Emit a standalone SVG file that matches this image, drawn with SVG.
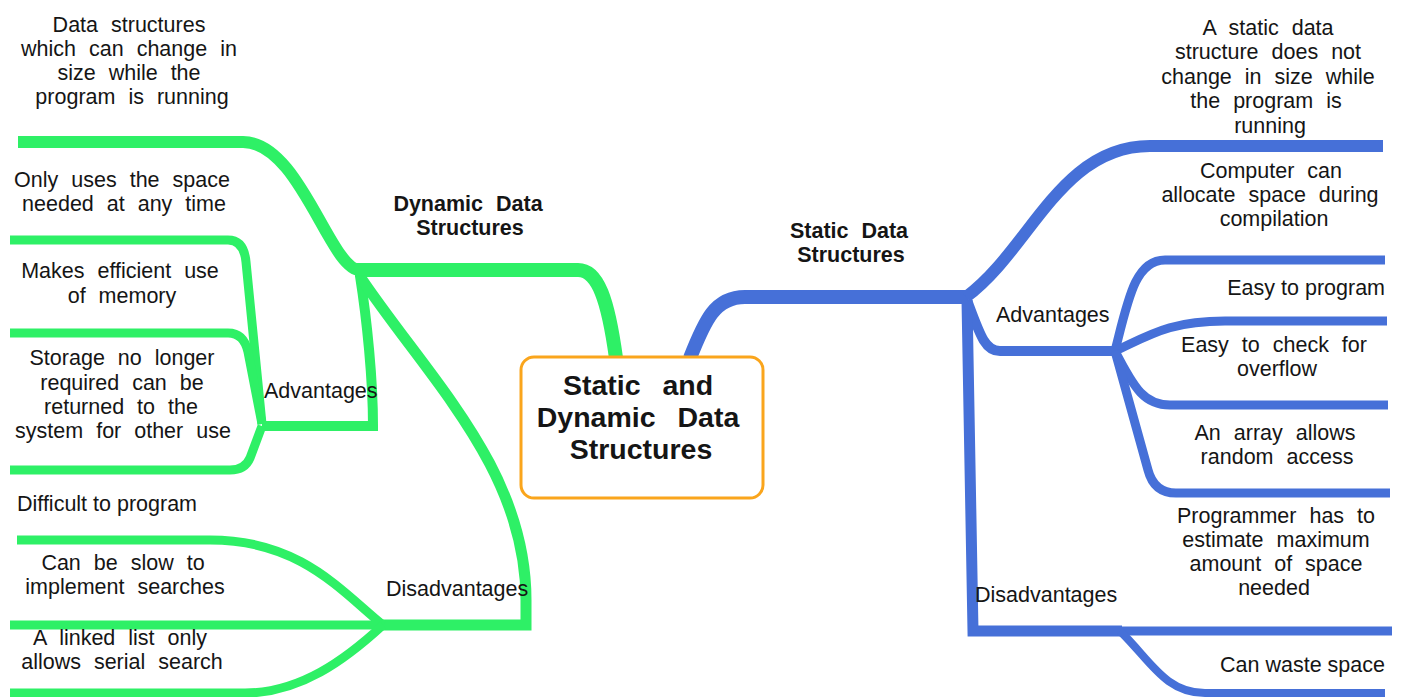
<svg xmlns="http://www.w3.org/2000/svg" width="1404" height="697" viewBox="0 0 1404 697">
  <style>
    .t { font-family: "Liberation Sans", Arial, sans-serif; font-size: 21.5px; fill: #151515; }
    .j { word-spacing: 7px; }
    .m { text-anchor: middle; }
    .e { text-anchor: end; }
    .b { font-weight: bold; }
    .r { font-size: 28.5px; word-spacing: 14px; }
    .g { fill: none; stroke: #2ef066; stroke-linejoin: miter; }
    .u { fill: none; stroke: #4670d8; stroke-linejoin: miter; }
  </style>

  <rect width="1404" height="697" fill="#ffffff"/>

  <!-- branch lines -->
  <g id="connectors">
    <!-- dynamic side (green) -->
    <path class="g" stroke-width="14" d="M355,270 L578,270 C598,270 608,300 616,358"/>
    <path class="g" stroke-width="12" d="M18,142 L243,142 C300,142 330,270 360,270"/>
    <path class="g" stroke-width="10" d="M360,276 C367,320 373,380 373,426 L262,426"/>
    <path class="g" stroke-width="11" d="M361,278 C430,380 526,470 526,600 L526,625 L383,625"/>
    <path class="g" stroke-width="9" d="M262,424 L246,262 Q244,240 228,240 L10,240"/>
    <path class="g" stroke-width="9" d="M262,424 L248,352 Q244,333 228,333 L10,333"/>
    <path class="g" stroke-width="9" d="M262,426 L250,458 Q245,470 230,470 L10,470"/>
    <path class="g" stroke-width="9" d="M383,625 C340,590 300,540 210,540 L17,540"/>
    <path class="g" stroke-width="9" d="M383,625 L10,625"/>
    <path class="g" stroke-width="9" d="M383,625 C345,660 300,693 245,693 L10,693"/>

    <!-- static side (blue) -->
    <path class="u" stroke-width="14" d="M690,358 C705,320 715,297 745,297 L968,297"/>
    <path class="u" stroke-width="12" d="M966,297 C1030,250 1060,146 1150,146 L1383,146"/>
    <path class="u" stroke-width="10" d="M967,300 C980,335 985,351 1000,351 L1117,351"/>
    <path class="u" stroke-width="11" d="M967,300 L973,631 L1122,631"/>
    <path class="u" stroke-width="9" d="M1115,351 C1128,300 1135,260 1165,260 L1385,260"/>
    <path class="u" stroke-width="9" d="M1115,351 C1150,335 1170,321 1225,321 L1387,321"/>
    <path class="u" stroke-width="9" d="M1115,351 C1135,390 1145,405 1170,405 L1388,405"/>
    <path class="u" stroke-width="9" d="M1115,351 L1148,470 Q1154,493 1176,493 L1390,493"/>
    <path class="u" stroke-width="9" d="M1120,631 L1392,631"/>
    <path class="u" stroke-width="8" d="M1120,631 C1150,660 1165,693 1205,693 L1385,693"/>
  </g>

  <!-- central topic -->
  <g id="root">
    <rect x="521" y="357" width="242" height="141" rx="13" fill="#ffffff" stroke="#faa51c" stroke-width="3"/>
    <text class="t b m r" x="638" y="395">Static and</text>
    <text class="t b m r" x="638" y="427">Dynamic Data</text>
    <text class="t b m r" x="641" y="459">Structures</text>
  </g>

  <!-- dynamic side -->
  <g id="dynamic">
    <text class="t b m j" x="468" y="211">Dynamic Data</text>
    <text class="t b m j" x="470" y="235">Structures</text>
  </g>
  <g id="dynamic-definition">
    <text class="t m j" x="129" y="32">Data structures</text>
    <text class="t m j" x="129" y="56">which can change in</text>
    <text class="t m j" x="129" y="80">size while the</text>
    <text class="t m j" x="132" y="104">program is running</text>
  </g>
  <g id="dynamic-advantages">
    <text class="t" x="264" y="398">Advantages</text>
  </g>
  <g id="dyn-adv-1">
    <text class="t m j" x="122" y="187">Only uses the space</text>
    <text class="t m j" x="124" y="211">needed at any time</text>
  </g>
  <g id="dyn-adv-2">
    <text class="t m j" x="120" y="278">Makes efficient use</text>
    <text class="t m j" x="122" y="303">of memory</text>
  </g>
  <g id="dyn-adv-3">
    <text class="t m j" x="122" y="365">Storage no longer</text>
    <text class="t m j" x="122" y="390">required can be</text>
    <text class="t m j" x="121" y="414">returned to the</text>
    <text class="t m j" x="123" y="438">system for other use</text>
  </g>
  <g id="dynamic-disadvantages">
    <text class="t" x="386" y="596">Disadvantages</text>
  </g>
  <g id="dyn-dis-1">
    <text class="t" x="17" y="511">Difficult to program</text>
  </g>
  <g id="dyn-dis-2">
    <text class="t m j" x="123" y="570">Can be slow to</text>
    <text class="t m j" x="125" y="594">implement searches</text>
  </g>
  <g id="dyn-dis-3">
    <text class="t m j" x="120" y="645">A linked list only</text>
    <text class="t m j" x="122" y="669">allows serial search</text>
  </g>

  <!-- static side -->
  <g id="static">
    <text class="t b m j" x="849" y="238">Static Data</text>
    <text class="t b m j" x="851" y="262">Structures</text>
  </g>
  <g id="static-definition">
    <text class="t m j" x="1268" y="35">A static data</text>
    <text class="t m j" x="1268" y="59">structure does not</text>
    <text class="t m j" x="1268" y="84">change in size while</text>
    <text class="t m j" x="1266" y="108">the program is</text>
    <text class="t m j" x="1270" y="133">running</text>
  </g>
  <g id="static-advantages">
    <text class="t" x="996" y="322">Advantages</text>
  </g>
  <g id="sta-adv-1">
    <text class="t m j" x="1271" y="178">Computer can</text>
    <text class="t m j" x="1270" y="202">allocate space during</text>
    <text class="t m j" x="1274" y="226">compilation</text>
  </g>
  <g id="sta-adv-2">
    <text class="t e" x="1385" y="295">Easy to program</text>
  </g>
  <g id="sta-adv-3">
    <text class="t m j" x="1274" y="352">Easy to check for</text>
    <text class="t m j" x="1277" y="376">overflow</text>
  </g>
  <g id="sta-adv-4">
    <text class="t m j" x="1275" y="440">An array allows</text>
    <text class="t m j" x="1277" y="464">random access</text>
  </g>
  <g id="static-disadvantages">
    <text class="t" x="975" y="602">Disadvantages</text>
  </g>
  <g id="sta-dis-1">
    <text class="t m j" x="1276" y="523">Programmer has to</text>
    <text class="t m j" x="1276" y="547">estimate maximum</text>
    <text class="t m j" x="1276" y="571">amount of space</text>
    <text class="t m j" x="1274" y="595">needed</text>
  </g>
  <g id="sta-dis-2">
    <text class="t e" x="1385" y="672">Can waste space</text>
  </g>
</svg>
